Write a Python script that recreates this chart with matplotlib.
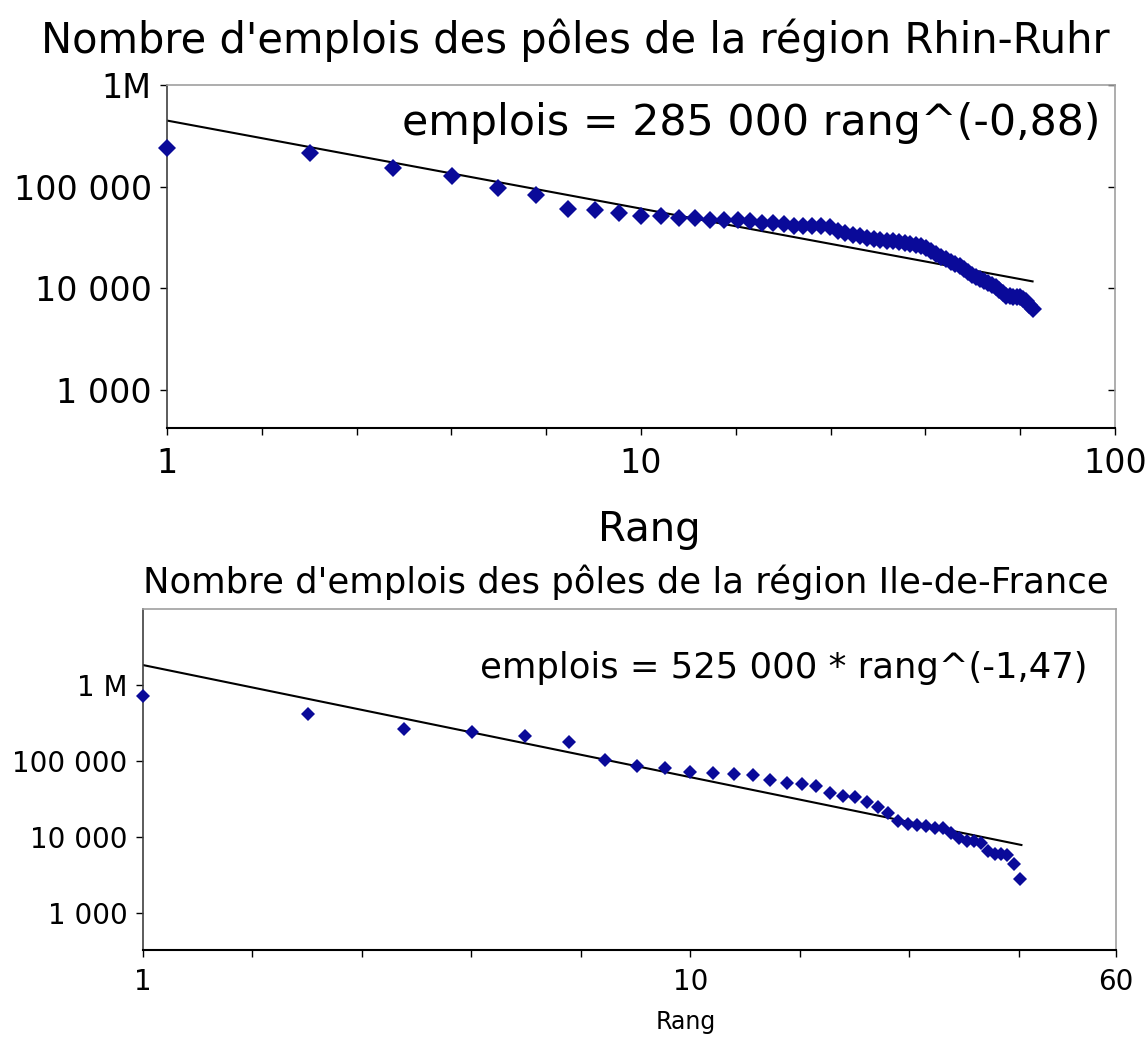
import numpy as np
import matplotlib
matplotlib.use("Agg")
import matplotlib.pyplot as plt
from matplotlib.ticker import NullLocator, NullFormatter

# --- Rhin-Ruhr data (rank vs jobs) ---
rr_rang = list(range(1, 68))
rr_emplois = [240000, 215000, 153000, 126000, 97000, 83000, 60000, 58500, 55000, 52000,
              51500, 49500, 49000, 47000, 46800, 46500, 45500, 44200, 44000, 43200,
              41300, 41200, 40800, 40700, 40500, 36900, 34800, 33700, 32400, 31500,
              30700, 30000, 29400, 28900, 28300, 27800, 27100, 26600, 25900, 24800,
              23400, 21600, 20200, 19300, 18200, 17400, 16700, 15400, 14500, 13600,
              12800, 12300, 11700, 11200, 10800, 10200, 9700, 9000, 8500, 8350,
              8300, 8280, 8250, 7900, 7500, 6900, 6200]
rr_fit_rang = [1, 67]
rr_fit_emplois = [447000, 11700]

# --- Ile-de-France data ---
idf_rang = list(range(1, 41))
idf_emplois = [717000, 415000, 261000, 239000, 215000, 180000, 103000, 87000, 80100, 72500,
               70200, 67400, 65400, 56200, 50800, 49800, 46900, 37600, 34900, 33900,
               28600, 25100, 20900, 16400, 14800, 14400, 14000, 13300, 13200, 11400,
               9600, 8900, 8800, 8300, 6600, 6000, 5900, 5800, 4400, 2800]
idf_fit_rang = [1, 40.3]
idf_fit_emplois = [1830000, 7850]

y_ticks = [1000, 10000, 100000, 1000000]
rr_y_labels = ['1 000', '10 000', '100 000', '1M']
idf_y_labels = ['1 000', '10 000', '100 000', '1 M']

marker_color = '#0a0a99'
W, H = 1147, 1037

fig = plt.figure(figsize=(W / 100, H / 100), dpi=100)
fig.patch.set_facecolor('white')


def style_axes(ax, xmax, tick_fs):
    ax.set_xscale('log')
    ax.set_yscale('log')
    for s in ['top', 'right']:
        ax.spines[s].set_color('#a0a0a0')
        ax.spines[s].set_linewidth(1.2)
    ax.spines['left'].set_color('#404040')
    ax.spines['bottom'].set_color('black')
    ax.spines['left'].set_linewidth(1.2)
    ax.spines['bottom'].set_linewidth(1.5)
    # evenly spaced minor ticks (5 per decade)
    minors = [10 ** (k / 5) for k in range(0, 11) if 10 ** (k / 5) <= xmax * 1.001]
    ax.set_xticks(minors, minor=True)
    ax.xaxis.set_minor_formatter(NullFormatter())
    ax.yaxis.set_minor_locator(NullLocator())
    ax.tick_params(axis='x', which='both', direction='out', length=5, width=1, colors='black',
                   labelsize=tick_fs, pad=8)
    ax.tick_params(axis='y', which='major', direction='out', length=5, width=1,
                   labelsize=tick_fs, pad=6)


# graph 1: Rhin-Ruhr
ax1 = fig.add_axes([167 / W, 1 - 428.5 / H, (1115 - 167) / W, (428.5 - 85) / H])
style_axes(ax1, 100, 24)
ax1.plot(rr_fit_rang, rr_fit_emplois, color='black', lw=1.5, zorder=2)
ax1.plot(rr_rang, rr_emplois, linestyle='none', marker='D', markersize=9.5,
         color=marker_color, markeredgewidth=0, zorder=3, clip_on=False)
ax1.set_xlim(1, 100)
ax1.set_ylim(418, 1e6)
ax1.set_yticks(y_ticks, rr_y_labels)
ax1.set_xticks([1, 10, 100], ['1', '10', '100'])
ax1.tick_params(axis='y', which='major', right=True)
for t in ax1.yaxis.get_major_ticks():
    t.tick2line.set_marker(matplotlib.lines.TICKLEFT)

# graph 2: Ile-de-France
ax2 = fig.add_axes([143 / W, 1 - 950 / H, (1116 - 143) / W, (950 - 609) / H])
style_axes(ax2, 60, 20)
ax2.plot(idf_fit_rang, idf_fit_emplois, color='black', lw=1.5, zorder=2)
ax2.plot(idf_rang, idf_emplois, linestyle='none', marker='D', markersize=7.5,
         color=marker_color, markeredgewidth=0, zorder=3, clip_on=False)
ax2.set_xlim(1, 60)
ax2.set_ylim(326, 1e7)
ax2.set_yticks(y_ticks, idf_y_labels)
ax2.set_xticks([1, 10, 60], ['1', '10', '60'])

# titles and texts
fig.text(575 / W, 1 - 40 / H, "Nombre d'emplois des pôles de la région Rhin-Ruhr",
         ha='center', va='center', fontsize=30)
fig.text(1100 / W, 1 - 123 / H, "emplois = 285 000 rang^(-0,88)",
         ha='right', va='center', fontsize=30.8)
fig.text(649 / W, 1 - 530 / H, "Rang", ha='center', va='center', fontsize=29)

fig.text(626 / W, 1 - 582 / H, "Nombre d'emplois des pôles de la région Ile-de-France",
         ha='center', va='center', fontsize=25.5)
fig.text(1088 / W, 1 - 668 / H, "emplois = 525 000 * rang^(-1,47)",
         ha='right', va='center', fontsize=25.5)
fig.text(686 / W, 1 - 1022 / H, "Rang", ha='center', va='center', fontsize=17)

fig.savefig('out.png', dpi=100, facecolor='white')
